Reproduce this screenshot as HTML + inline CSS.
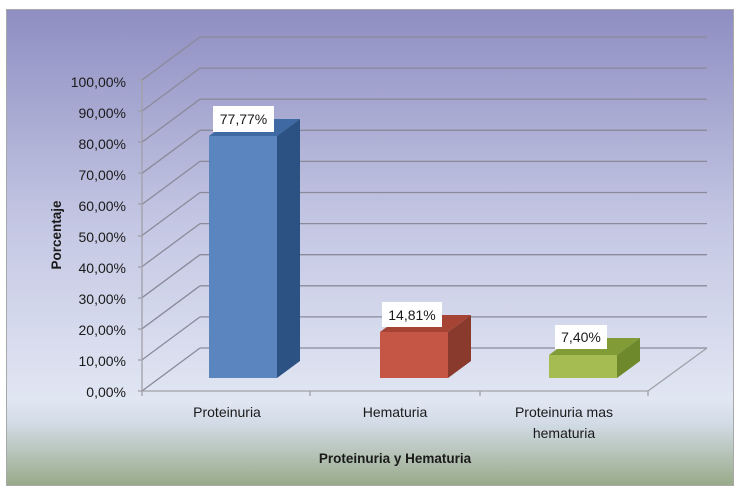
<!DOCTYPE html>
<html><head><meta charset="utf-8"><style>
html,body{margin:0;padding:0;background:#fff;}
svg{display:block;}
text{font-family:"Liberation Sans",sans-serif;fill:#1a1a1a;}
</style></head><body>
<svg width="740" height="491" viewBox="0 0 740 491" xmlns="http://www.w3.org/2000/svg">
<defs>
<linearGradient id="bg" x1="0" y1="0" x2="0" y2="1">
<stop offset="0" stop-color="#8e8ec2"/>
<stop offset="0.45" stop-color="#c4c7e3"/>
<stop offset="0.82" stop-color="#e1e6f3"/>
<stop offset="0.87" stop-color="#d2dbe6"/>
<stop offset="1" stop-color="#98aa88"/>
</linearGradient>
</defs>
<rect x="6.5" y="9.5" width="727" height="476" fill="url(#bg)" stroke="#a8a8a8" stroke-width="1"/>
<g stroke="#8a8a9a" stroke-width="1.3" fill="none">
<!-- back wall gridlines and diagonals -->
<line x1="200" y1="37" x2="707" y2="37"/><line x1="142" y1="80" x2="200" y2="37"/>
<line x1="200" y1="68.1" x2="707" y2="68.1"/><line x1="142" y1="111.1" x2="200" y2="68.1"/>
<line x1="200" y1="99.2" x2="707" y2="99.2"/><line x1="142" y1="142.2" x2="200" y2="99.2"/>
<line x1="200" y1="130.3" x2="707" y2="130.3"/><line x1="142" y1="173.3" x2="200" y2="130.3"/>
<line x1="200" y1="161.4" x2="707" y2="161.4"/><line x1="142" y1="204.4" x2="200" y2="161.4"/>
<line x1="200" y1="192.5" x2="707" y2="192.5"/><line x1="142" y1="235.5" x2="200" y2="192.5"/>
<line x1="200" y1="223.6" x2="707" y2="223.6"/><line x1="142" y1="266.6" x2="200" y2="223.6"/>
<line x1="200" y1="254.7" x2="707" y2="254.7"/><line x1="142" y1="297.7" x2="200" y2="254.7"/>
<line x1="200" y1="285.8" x2="707" y2="285.8"/><line x1="142" y1="328.8" x2="200" y2="285.8"/>
<line x1="200" y1="316.9" x2="707" y2="316.9"/><line x1="142" y1="359.9" x2="200" y2="316.9"/>
<line x1="200" y1="348" x2="707" y2="348"/><line x1="142" y1="391" x2="200" y2="348"/>
</g>
<g stroke="#a0a0a8" stroke-width="1.3" fill="none">
<line x1="142" y1="80" x2="142" y2="391"/>
<line x1="142" y1="391" x2="648" y2="391"/>
<line x1="648" y1="391" x2="707" y2="348"/>
<line x1="138" y1="80" x2="142" y2="80"/><line x1="138" y1="111" x2="142" y2="111"/>
<line x1="138" y1="142" x2="142" y2="142"/><line x1="138" y1="173" x2="142" y2="173"/>
<line x1="138" y1="204" x2="142" y2="204"/><line x1="138" y1="236" x2="142" y2="236"/>
<line x1="138" y1="267" x2="142" y2="267"/><line x1="138" y1="298" x2="142" y2="298"/>
<line x1="138" y1="329" x2="142" y2="329"/><line x1="138" y1="360" x2="142" y2="360"/>
<line x1="138" y1="391" x2="142" y2="391"/>
<line x1="142" y1="391" x2="142" y2="396"/><line x1="310" y1="391" x2="310" y2="396"/>
<line x1="480" y1="391" x2="480" y2="396"/><line x1="648" y1="391" x2="648" y2="396"/>
</g>
<!-- bars -->
<polygon points="209,136 277,136 300,119 232,119" fill="#3e69a3"/>
<polygon points="277,136 300,119 300,361 277,378" fill="#2c5283"/>
<rect x="209" y="136" width="68" height="242" fill="#5a85bf"/>
<polygon points="380,332 448,332 471,315 403,315" fill="#a54434"/>
<polygon points="448,332 471,315 471,361 448,378" fill="#8a392d"/>
<rect x="380" y="332" width="68" height="46" fill="#c55645"/>
<polygon points="549,355 617,355 640,338 572,338" fill="#819c36"/>
<polygon points="617,355 640,338 640,361 617,378" fill="#6d892b"/>
<rect x="549" y="355" width="68" height="23" fill="#a4bc52"/>
<!-- data labels -->
<rect x="213" y="106" width="61" height="26" fill="#fff"/>
<text x="243.5" y="124" font-size="14" text-anchor="middle">77,77%</text>
<rect x="382" y="302" width="60" height="25" fill="#fff"/>
<text x="412" y="320" font-size="14" text-anchor="middle">14,81%</text>
<rect x="555" y="325" width="52" height="24" fill="#fff"/>
<text x="581" y="342" font-size="14" text-anchor="middle">7,40%</text>
<!-- y tick labels -->
<g font-size="14" text-anchor="end">
<text x="126" y="87">100,00%</text>
<text x="126" y="118">90,00%</text>
<text x="126" y="149">80,00%</text>
<text x="126" y="180">70,00%</text>
<text x="126" y="211">60,00%</text>
<text x="126" y="242">50,00%</text>
<text x="126" y="273">40,00%</text>
<text x="126" y="304">30,00%</text>
<text x="126" y="335">20,00%</text>
<text x="126" y="366">10,00%</text>
<text x="126" y="397">0,00%</text>
</g>
<!-- x labels -->
<g font-size="14" text-anchor="middle">
<text x="227" y="417">Proteinuria</text>
<text x="395" y="417">Hematuria</text>
<text x="564" y="417">Proteinuria mas</text>
<text x="564" y="438">hematuria</text>
</g>
<text x="395" y="463" font-size="13.5" font-weight="bold" text-anchor="middle">Proteinuria y Hematuria</text>
<text transform="translate(61,235) rotate(-90)" font-size="13.5" font-weight="bold" text-anchor="middle">Porcentaje</text>
</svg>
</body></html>
